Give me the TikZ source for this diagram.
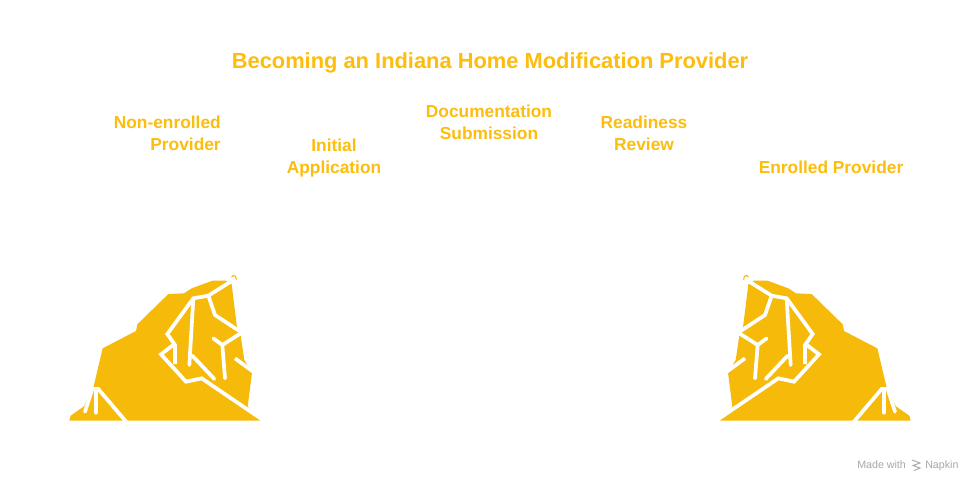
\documentclass[tikz,border=0pt]{standalone}
\usepackage{fontspec}
\setmainfont{Liberation Sans}
\definecolor{rockc}{HTML}{F5BA0A}
\definecolor{titlec}{HTML}{FDBD0D}
\definecolor{markc}{HTML}{A8A8A8}
\tikzset{
  px/.style={x=0.75pt,y=-0.75pt},
  rockfill/.style={fill=rockc,draw=none},
  crack/.style={draw=white,line width=2.8pt,line cap=round,line join=miter},
  heading/.style={text=titlec,font=\bfseries\fontsize{16.4pt}{20pt}\selectfont,inner sep=0pt,anchor=center},
  steplabel/.style={text=titlec,font=\bfseries\fontsize{13pt}{16.6pt}\selectfont,inner sep=0pt},
  pics/rock/.style={code={
    \fill[rockfill] (28,467) -- (32,452) -- (72,424) -- (88,392) -- (100,368) -- (128,250) -- (228,198) -- (232,178)
      -- (325,87) -- (372,85) -- (395,70) -- (458,47) -- (498,47) -- (515,58) -- (532,195) -- (541,205)
      -- (553,285) -- (576,323) -- (563,425) -- (600,467) -- cycle;
    \draw[crack,line cap=butt] (512,50) -- (445,92) -- (400,100) -- (322,207) -- (345,240) -- (345,297);
    \draw[crack] (400,100) -- (388,300);
    \draw[crack] (445,92) -- (465,150) -- (538,198);
    \draw[crack,line cap=butt] (545,203) -- (487,240);
    \draw[crack] (487,240) -- (460,220);
    \draw[crack] (487,240) -- (495,340);
    \draw[crack,line cap=butt] (525,280) -- (585,324);
    \draw[crack] (397,272) -- (463,342);
    \draw[crack,line cap=butt] (342,238) -- (303,268) -- (378,350) -- (425,340) -- (612,467);
    \draw[crack] (75,440) -- (97,372);
    \draw[crack] (107,375) -- (107,443);
    \draw[crack,line cap=butt] (97,372) -- (115,372) -- (200,472);
    \draw[draw=rockc,line width=0.8pt,line cap=round] (515,36) .. controls (518,29) and (529,30) .. (529,43);
  }},
}
\begin{document}
\begin{tikzpicture}[px]
  \useasboundingbox (0,0) rectangle (980,490);
  \fill[white] (0,0) rectangle (980,490);
  \pic[x=0.25pt,y=-0.25pt,shift={(45pt,-198.75pt)}] (rockleft) at (0,0) {rock};
  \pic[x=-0.25pt,y=-0.25pt,shift={(690pt,-198.75pt)}] (rockright) at (0,0) {rock};
  \node[heading] (title) at (490,63) {Becoming an Indiana Home Modification Provider};
  \node[steplabel,align=right,anchor=east] (s1) at (221,133) {Non-enrolled\\Provider};
  \node[steplabel,align=center] (s2) at (334,158) {Initial\\Application};
  \node[steplabel,align=center] (s3) at (489,122) {Documentation\\Submission};
  \node[steplabel,align=center] (s4) at (644,133) {Readiness\\Review};
  \node[steplabel,align=center] (s5) at (831,167) {Enrolled Provider};
  \node[text=markc,font=\fontsize{8pt}{10pt}\selectfont,inner sep=0pt,anchor=base west] (made) at (857,468) {Made with};
  \node[text=markc,font=\fontsize{8pt}{10pt}\selectfont,inner sep=0pt,anchor=base west] (nap) at (925,468) {Napkin};
  \draw[markc,line width=0.7pt] (912,460) -- (920,463) -- (913,465.5) -- (920,468) -- (914,470.5);
\end{tikzpicture}
\end{document}
